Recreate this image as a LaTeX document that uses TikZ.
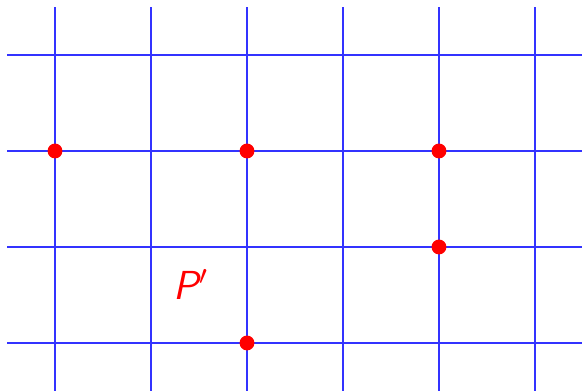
\documentclass[tikz,border=0pt]{standalone}
\usepackage{amsmath}
\usepackage{tikz}
\usetikzlibrary{positioning}

\begin{document}
\begin{tikzpicture}[
    font=\sffamily,
    gline/.style={blue!80!white, line width=0.4pt},
    rdot/.style={circle, fill=red, inner sep=0pt, minimum size=0.155cm}
]
    \useasboundingbox (-0.573,-0.5) rectangle (5.49,3.573);
    % lattice
    \foreach \i in {0,...,5} \draw[gline] (\i,-0.6) -- (\i,3.5);
    \foreach \j in {0,...,3} \draw[gline] (-0.5,\j) -- (5.6,\j);
    % points of P'
    \node[rdot] (p1) at (0,2) {};
    \node[rdot] (p2) at (2,2) {};
    \node[rdot] (p3) at (4,2) {};
    \node[rdot] (p4) at (4,1) {};
    \node[rdot] (p5) at (2,0) {};
    \node[text=red, font=\large\sffamily\itshape] (lab) at (1.42,0.61) {P$'$};
\end{tikzpicture}
\end{document}
